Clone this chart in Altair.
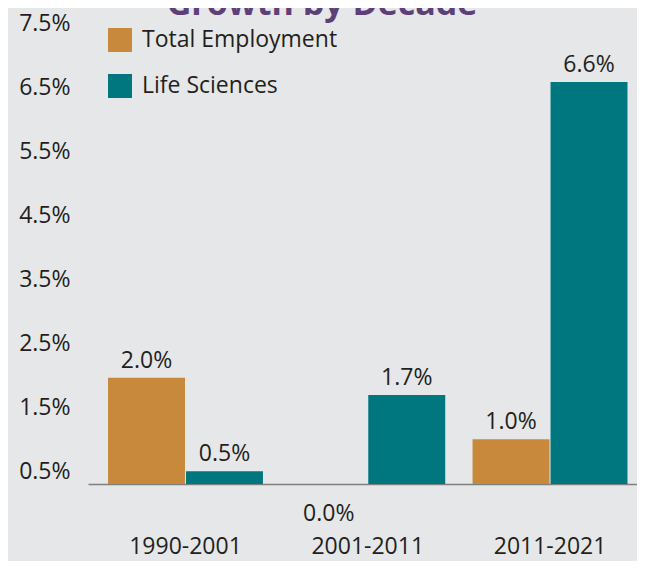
import altair as alt
import pandas as pd

decades = ["1990-2001", "2001-2011", "2011-2021"]
series = ["Total Employment", "Life Sciences"]
total_employment = [1.96, 0.0, 1.0]
life_sciences = [0.5, 1.69, 6.58]
y_ticks = [0.5, 1.5, 2.5, 3.5, 4.5, 5.5, 6.5, 7.5]
colors = ["#c8893d", "#00777f"]
title_text = ["Growth by Decade"]

rows = []
for d, te, ls in zip(decades, total_employment, life_sciences):
    rows.append({"decade": d, "series": series[0], "value": te})
    rows.append({"decade": d, "series": series[1], "value": ls})
df = pd.DataFrame(rows)

FONT = "Open Sans"
TXT = "#231f20"

x_enc = alt.X("decade:N", sort=decades,
              scale=alt.Scale(paddingInner=0.15, paddingOuter=0.081, align=0.678),
              axis=alt.Axis(title=None, labelAngle=0, ticks=False, labelFontSize=23,
                            labelFont=FONT, labelColor=TXT, labelPadding=69,
                            labelBaseline="alphabetic", domainColor="#7f7f7f",
                            domainWidth=1.5))
xo_enc = alt.XOffset("series:N", sort=series, scale=alt.Scale(paddingInner=0.013))
y_enc = alt.Y("value:Q",
              scale=alt.Scale(domain=[0.3, 7.5], zero=False, nice=False),
              axis=alt.Axis(title=None, values=y_ticks, grid=False, domain=False,
                            ticks=False, labelFontSize=23, labelFont=FONT,
                            labelColor=TXT, labelPadding=18,
                            labelExpr="format(datum.value, '.1f') + '%'"))

base = alt.Chart(df)

bars = base.mark_bar(clip=True).encode(
    x=x_enc, xOffset=xo_enc, y=y_enc,
    color=alt.Color("series:N", sort=series,
                    scale=alt.Scale(domain=series, range=colors),
                    legend=alt.Legend(title=None, orient="none", legendX=20, legendY=5,
                                      symbolType="square", symbolSize=576,
                                      symbolStrokeWidth=0, labelFontSize=23,
                                      labelFont=FONT, labelColor=TXT, labelLimit=0,
                                      labelOffset=10, rowPadding=22)),
)

label_pos = base.transform_filter("datum.value > 0").mark_text(
    dy=-10, baseline="alphabetic", fontSize=23, font=FONT, color=TXT
).encode(
    x=x_enc, xOffset=xo_enc, y=y_enc,
    text=alt.Text("label:N"),
).transform_calculate(label="format(datum.value, '.1f') + '%'")

label_zero = base.transform_filter("datum.value <= 0").mark_text(
    dy=18, baseline="alphabetic", fontSize=23, font=FONT, color=TXT
).encode(
    x=x_enc, xOffset=xo_enc, y=y_enc,
    text=alt.Text("label:N"),
).transform_calculate(label="format(datum.value, '.1f') + '%'")

title_mark = alt.Chart(pd.DataFrame({"t": title_text})).mark_text(
    fontSize=34, fontWeight="bold", font=FONT, color="#5e4079",
    baseline="alphabetic", align="center"
).encode(text="t:N", x=alt.value(234), y=alt.value(-8))

chart = alt.layer(bars, label_pos, label_zero, title_mark).properties(
    width=549, height=461,
    autosize=alt.AutoSizeParams(type="none"),
    padding={"left": 80, "top": 15, "right": 0, "bottom": 77},
    background="#e6e7e8",
).configure_view(stroke=None)

chart.save("out.html", embed_options={"renderer": "svg", "actions": False})
